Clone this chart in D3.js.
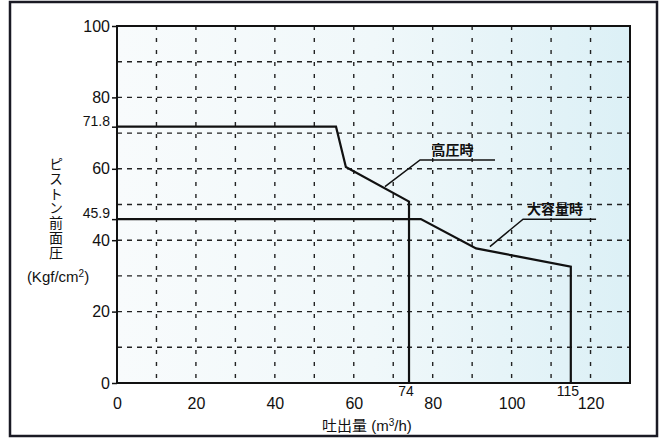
<!DOCTYPE html>
<html>
<head>
<meta charset="utf-8">
<script src="https://cdn.jsdelivr.net/npm/d3@7"></script>
<style>
  body { margin: 0; background: #fff; }
  svg { display: block; }
  text { font-family: "Liberation Sans", Arial, "Noto Sans CJK JP", sans-serif; fill: #111; }
  .jp { font-family: "Noto Sans CJK JP", sans-serif; }
</style>
</head>
<body>
<svg id="chart" width="667" height="439"></svg>
<script>
// high pressure curve (高圧時)
var high_x = [0, 55.5, 58, 74, 74];
var high_y = [71.8, 71.8, 60.5, 50.8, 0];
// large volume curve (大容量時)
var large_x = [0, 77, 91, 115, 115];
var large_y = [45.9, 45.9, 37.7, 32.6, 0];

var x_ticks = [0, 20, 40, 60, 80, 100, 120];
var y_ticks = [0, 20, 40, 60, 80, 100];
var y_marks = [71.8, 45.9];
var x_marks = [74, 115];
var grid_x = [10, 20, 30, 40, 50, 60, 70, 80, 90, 100, 110, 120];
var grid_y = [10, 20, 30, 40, 50, 60, 70, 80, 90];

var y_title = 'ピストン前面圧';

function draw() {
    var svg = d3.select('#chart');
    var left = 117, right = 630, top = 26, bottom = 383;

    var x = d3.scaleLinear().domain([0, 130]).range([left, right]);
    var y = d3.scaleLinear().domain([0, 100]).range([bottom, top]);

    // outer frame
    svg.append('rect')
        .attr('x', 10).attr('y', 2)
        .attr('width', 647).attr('height', 434)
        .attr('fill', '#fff')
        .attr('stroke', '#1a1a24')
        .attr('stroke-width', 2.5);

    var defs = svg.append('defs');
    var grad = defs.append('linearGradient')
        .attr('id', 'bg')
        .attr('x1', '0%').attr('x2', '100%')
        .attr('y1', '0%').attr('y2', '0%');
    grad.append('stop').attr('offset', '0%').attr('stop-color', '#f8fbfc');
    grad.append('stop').attr('offset', '50%').attr('stop-color', '#f0f8fa');
    grad.append('stop').attr('offset', '100%').attr('stop-color', '#dcf0f6');

    svg.append('rect')
        .attr('x', left).attr('y', top)
        .attr('width', right - left).attr('height', bottom - top)
        .attr('fill', 'url(#bg)');

    // dashed grid
    svg.selectAll('.gx').data(grid_x).enter().append('line')
        .attr('class', 'gx')
        .attr('x1', function (d) { return x(d); })
        .attr('x2', function (d) { return x(d); })
        .attr('y1', y(100)).attr('y2', y(0))
        .attr('stroke', '#222')
        .attr('stroke-width', 1.4)
        .attr('stroke-dasharray', '4,8');
    svg.selectAll('.gy').data(grid_y).enter().append('line')
        .attr('class', 'gy')
        .attr('y1', function (d) { return y(d); })
        .attr('y2', function (d) { return y(d); })
        .attr('x1', x(0)).attr('x2', x(130))
        .attr('stroke', '#222')
        .attr('stroke-width', 1.4)
        .attr('stroke-dasharray', '5,5');

    // plot border
    svg.append('rect')
        .attr('x', left).attr('y', top)
        .attr('width', right - left).attr('height', bottom - top)
        .attr('fill', 'none')
        .attr('stroke', '#111')
        .attr('stroke-width', 2);

    // y axis ticks and labels
    var yAxis = d3.axisLeft(y).tickValues(y_ticks).tickSize(5).tickPadding(2);
    var gy = svg.append('g').attr('transform', 'translate(' + left + ',0)').call(yAxis);
    gy.select('.domain').remove();
    gy.selectAll('line').attr('stroke', '#111').attr('stroke-width', 1.5);
    gy.selectAll('text').style('font-size', '16px').attr('fill', '#111');

    var yAxis2 = d3.axisLeft(y).tickValues(y_marks).tickSize(5).tickPadding(2)
        .tickFormat(d3.format('.1f'));
    var gy2 = svg.append('g').attr('transform', 'translate(' + left + ',0)').call(yAxis2);
    gy2.select('.domain').remove();
    gy2.selectAll('line').attr('stroke', '#111').attr('stroke-width', 1.5);
    gy2.selectAll('text').style('font-size', '14px').attr('fill', '#111').attr('dy', '-0.1em');

    // x axis labels
    var xAxis = d3.axisBottom(x).tickValues(x_ticks).tickSize(0).tickPadding(15);
    var gx = svg.append('g').attr('transform', 'translate(0,' + bottom + ')').call(xAxis);
    gx.select('.domain').remove();
    gx.selectAll('text').style('font-size', '16px').attr('fill', '#111');

    svg.selectAll('.xmark').data(x_marks).enter().append('text')
        .attr('class', 'xmark')
        .attr('x', function (d) { return x(d) - 3; })
        .attr('y', bottom + 13)
        .attr('text-anchor', 'middle')
        .style('font-size', '14px')
        .text(function (d) { return d; });

    // axis titles
    svg.append('text')
        .attr('x', 367).attr('y', 431)
        .attr('text-anchor', 'middle')
        .style('font-size', '15px')
        .html('<tspan class="jp">吐出量</tspan> (m<tspan dy="-5" style="font-size:10px">3</tspan><tspan dy="5">/h)</tspan>');

    svg.append('text')
        .attr('class', 'jp')
        .attr('x', 56).attr('y', 157)
        .style('writing-mode', 'vertical-rl')
        .style('text-orientation', 'upright')
        .style('font-size', '14px')
        .style('letter-spacing', '0.7px')
        .text(y_title);

    svg.append('text')
        .attr('x', 58).attr('y', 282)
        .attr('text-anchor', 'middle')
        .style('font-size', '15px')
        .html('(Kgf/cm<tspan dy="-5" style="font-size:10px">2</tspan><tspan dy="5">)</tspan>');

    // curves
    var line = d3.line()
        .x(function (d) { return x(d[0]); })
        .y(function (d) { return y(d[1]); });

    svg.append('path')
        .datum(d3.zip(high_x, high_y))
        .attr('d', line)
        .attr('fill', 'none')
        .attr('stroke', '#111')
        .attr('stroke-width', 2.2);
    svg.append('path')
        .datum(d3.zip(large_x, large_y))
        .attr('d', line)
        .attr('fill', 'none')
        .attr('stroke', '#111')
        .attr('stroke-width', 2.2);

    // annotation leaders
    var high_lead = [[67.9, 55], [76.8, 62.5], [95.8, 62.5]];
    var large_lead = [[94.5, 38.2], [102.9, 45.9], [121.4, 45.9]];
    svg.append('path').datum(high_lead).attr('d', line)
        .attr('fill', 'none').attr('stroke', '#111').attr('stroke-width', 1.5);
    svg.append('path').datum(large_lead).attr('d', line)
        .attr('fill', 'none').attr('stroke', '#111').attr('stroke-width', 1.5);

    svg.append('text')
        .attr('class', 'jp')
        .attr('x', x(85)).attr('y', y(64))
        .attr('text-anchor', 'middle')
        .style('font-size', '14px')
        .style('font-weight', 'bold')
        .text('高圧時');
    svg.append('text')
        .attr('class', 'jp')
        .attr('x', x(111)).attr('y', y(47.3))
        .attr('text-anchor', 'middle')
        .style('font-size', '14px')
        .style('font-weight', 'bold')
        .text('大容量時');
}

window.onload = draw;
</script>
</body>
</html>
